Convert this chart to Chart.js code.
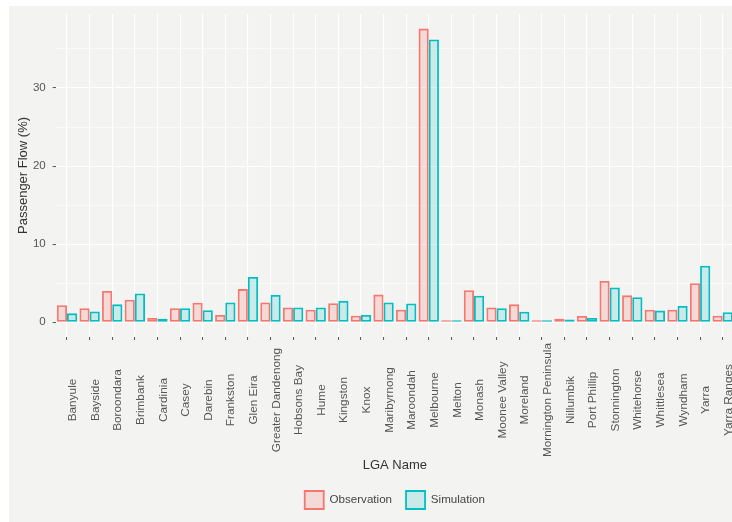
<!DOCTYPE html>
<html>
<head>
<meta charset="utf-8">
<script src="https://cdn.jsdelivr.net/npm/chart.js@4/dist/chart.umd.min.js"></script>
<style>
  html, body { margin: 0; padding: 0; background: #ffffff; overflow: hidden; width: 732px; height: 522px; }
  canvas { display: block; }
</style>
</head>
<body>
<canvas id="c" width="740" height="522"></canvas>
<script>
const categories = ["Banyule","Bayside","Boroondara","Brimbank","Cardinia","Casey","Darebin","Frankston","Glen Eira","Greater Dandenong","Hobsons Bay","Hume","Kingston","Knox","Maribyrnong","Maroondah","Melbourne","Melton","Monash","Moonee Valley","Moreland","Mornington Peninsula","Nillumbik","Port Phillip","Stonnington","Whitehorse","Whittlesea","Wyndham","Yarra","Yarra Ranges"];
const observation = [2.2,1.8,4.0,2.9,0.55,1.8,2.5,0.95,4.25,2.55,1.9,1.6,2.45,0.85,3.55,1.6,37.6,0.2,4.1,1.9,2.3,0.1,0.45,0.8,5.3,3.45,1.6,1.6,5.0,0.85];
const simulation = [1.15,1.4,2.3,3.7,0.45,1.8,1.55,2.55,5.8,3.5,1.9,1.9,2.75,0.95,2.55,2.4,36.2,0.12,3.4,1.8,1.35,0.2,0.35,0.55,4.45,3.2,1.5,2.1,7.25,1.3];
const yMajorTicks = [0,10,20,30];
const yMinorTicks = [5,15,25,35];

const dataMax = Math.max(...observation, ...simulation);
const pad = dataMax * 0.05;
const FONT = '"Liberation Sans", Arial, sans-serif';

const bgPlugin = {
  id: 'bg',
  beforeDraw(chart) {
    const ctx = chart.ctx;
    ctx.save();
    ctx.fillStyle = '#ffffff';
    ctx.fillRect(0, 0, chart.width, chart.height);
    ctx.fillStyle = '#f3f3f1';
    ctx.fillRect(9, 6, chart.width - 9, chart.height - 6);
    ctx.restore();
  }
};

const xLabelPlugin = {
  id: 'xlabels',
  afterDraw(chart) {
    const xs = chart.scales.x;
    const ctx = chart.ctx;
    ctx.save();
    ctx.font = '11.8px ' + FONT;
    ctx.fillStyle = '#555555';
    ctx.textAlign = 'center';
    ctx.textBaseline = 'top';
    xs.ticks.forEach((t, i) => {
      const x = xs.getPixelForTick(i);
      ctx.save();
      ctx.translate(x, 400);
      ctx.rotate(-Math.PI / 2);
      ctx.fillText(xs.getLabelForValue(t.value), 0, 0);
      ctx.restore();
    });
    ctx.restore();
  }
};

new Chart(document.getElementById('c'), {
  type: 'bar',
  data: {
    labels: categories,
    datasets: [
      { label: 'Observation', data: observation, borderColor: '#F8766D', backgroundColor: 'rgba(248,118,109,0.2)', borderWidth: 1.8, borderSkipped: false, minBarLength: 2 },
      { label: 'Simulation', data: simulation, borderColor: '#00BFC4', backgroundColor: 'rgba(0,191,196,0.17)', borderWidth: 1.8, borderSkipped: false, minBarLength: 2 }
    ]
  },
  options: {
    responsive: false,
    animation: false,
    layout: { padding: { left: 10, top: 13, right: 6, bottom: 3 } },
    datasets: { bar: { categoryPercentage: 0.9, barPercentage: 1.0 } },
    plugins: {
      tooltip: { enabled: false },
      legend: {
        position: 'bottom',
        fullSize: false,
        labels: { boxWidth: 19, boxHeight: 18, padding: 14, color: '#444444', font: { size: 11.6, family: FONT } }
      }
    },
    scales: {
      x: {
        offset: true,
        grid: { offset: false, color: '#ffffff', lineWidth: 1.1, drawTicks: true, tickLength: 3, tickColor: '#555555', tickWidth: 1 },
        border: { display: false },
        ticks: { display: false },
        title: { display: true, text: 'LGA Name', color: '#333333', font: { size: 13, family: FONT }, padding: { top: 0, bottom: 4 } },
        afterFit(scale) { scale.height = 140; }
      },
      y: {
        min: -pad,
        max: dataMax + pad,
        afterBuildTicks(scale) {
          scale.ticks = [...yMajorTicks, ...yMinorTicks].sort((a, b) => a - b).map(v => ({ value: v }));
        },
        grid: {
          color: '#ffffff',
          lineWidth: (c) => (c.tick && yMajorTicks.includes(c.tick.value)) ? 1.1 : 0.55,
          drawTicks: true,
          tickLength: 3,
          tickColor: (c) => (c.tick && yMajorTicks.includes(c.tick.value)) ? '#555555' : 'rgba(0,0,0,0)',
          tickWidth: 1
        },
        border: { display: false },
        ticks: {
          padding: 7,
          color: '#555555',
          font: { size: 11.5, family: FONT },
          callback: (v) => yMajorTicks.includes(v) ? String(v) : ''
        },
        title: { display: true, text: 'Passenger Flow (%)', color: '#333333', font: { size: 13, family: FONT }, padding: { top: 6, bottom: 4 } },
        afterFit(scale) { scale.width = 45.7; }
      }
    }
  },
  plugins: [bgPlugin, xLabelPlugin]
});
</script>
</body>
</html>
